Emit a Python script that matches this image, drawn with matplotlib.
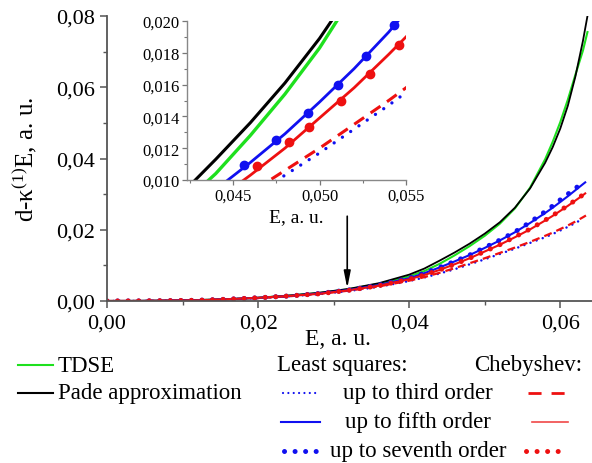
import matplotlib
matplotlib.use('Agg')
import matplotlib.pyplot as plt
from matplotlib.lines import Line2D
from matplotlib.ticker import MultipleLocator, FuncFormatter

plt.rcParams['font.family'] = ['Liberation Serif', 'DejaVu Serif']
plt.rcParams['mathtext.fontset'] = 'custom'
plt.rcParams['mathtext.rm'] = 'Liberation Serif'
plt.rcParams['mathtext.it'] = 'Liberation Serif:italic'

# field strength grid, a. u.
e_grid = [0, 0.004, 0.008, 0.012, 0.016, 0.020, 0.024, 0.028, 0.032, 0.036,
          0.040, 0.042, 0.044, 0.046, 0.048, 0.050, 0.052, 0.054, 0.056, 0.058,
          0.059, 0.060, 0.061, 0.062, 0.063]

e_exact = e_grid + [0.0636]
tdse = [0, 0.00002, 0.0001, 0.00025, 0.0005, 0.0009, 0.0015, 0.0022, 0.0033, 0.0048,
        0.0069, 0.0084, 0.0104, 0.0128, 0.0154, 0.0183, 0.0217, 0.0260, 0.0318, 0.0398,
        0.0447, 0.0502, 0.0565, 0.0635, 0.0703, 0.0755]
pade = [0, 0.00002, 0.0001, 0.00025, 0.0005, 0.0009, 0.0015, 0.0023, 0.0034, 0.0050,
        0.0074, 0.0091, 0.0113, 0.0136, 0.0161, 0.0189, 0.0221, 0.0262, 0.0316, 0.0388,
        0.0432, 0.0484, 0.0548, 0.0630, 0.0730, 0.0800]

e_ls3 = e_grid
ls3 = [0, 0.00002, 0.0001, 0.0002, 0.0005, 0.0008, 0.0013, 0.0019, 0.0028, 0.0040,
       0.0056, 0.0066, 0.0077, 0.0089, 0.0103, 0.0117, 0.0132, 0.0147, 0.0163, 0.0179,
       0.0188, 0.0198, 0.0208, 0.0219, 0.0231]
e_ls5 = e_grid + [0.0633]
ls5 = [0, 0.00002, 0.0001, 0.0002, 0.0005, 0.0009, 0.0014, 0.0021, 0.0031, 0.0045,
       0.0064, 0.0078, 0.0094, 0.0111, 0.0129, 0.0149, 0.0170, 0.0193, 0.0219, 0.0247,
       0.0262, 0.0278, 0.0294, 0.0311, 0.0328, 0.0333]
e_ls7 = e_grid
ls7 = [0, 0.00002, 0.0001, 0.0002, 0.0005, 0.0009, 0.0014, 0.0021, 0.0031, 0.0045,
       0.0064, 0.0078, 0.0094, 0.0111, 0.0129, 0.0150, 0.0171, 0.0194, 0.0221, 0.0251,
       0.0267, 0.0284, 0.0300, 0.0316, 0.0333]

e_ch3 = e_grid + [0.0634]
ch3 = [0, 0.00002, 0.0001, 0.0002, 0.0005, 0.0008, 0.0013, 0.0020, 0.0029, 0.0041,
       0.0057, 0.0067, 0.0079, 0.0092, 0.0106, 0.0120, 0.0135, 0.0150, 0.0166, 0.0183,
       0.0192, 0.0202, 0.0212, 0.0223, 0.0235, 0.0240]
e_ch5 = e_grid + [0.0633]
ch5 = [0, 0.00002, 0.0001, 0.0002, 0.0005, 0.0009, 0.0014, 0.0020, 0.0030, 0.0043,
       0.0061, 0.0073, 0.0087, 0.0103, 0.0120, 0.0139, 0.0158, 0.0179, 0.0201, 0.0226,
       0.0239, 0.0253, 0.0267, 0.0282, 0.0297, 0.0302]
e_ch7 = e_grid
ch7 = [0, 0.00002, 0.0001, 0.0002, 0.0005, 0.0009, 0.0014, 0.0020, 0.0030, 0.0043,
       0.0061, 0.0073, 0.0087, 0.0103, 0.0120, 0.0139, 0.0158, 0.0180, 0.0202, 0.0227,
       0.0240, 0.0254, 0.0268, 0.0283, 0.0298]

# symbols shown in the inset
ins_e_ls7 = [0.04563, 0.04748, 0.04933, 0.05106, 0.05269, 0.05430]
ins_ls7 = [0.01094, 0.01252, 0.01421, 0.01597, 0.01780, 0.01975]
ins_e_ch7 = [0.04639, 0.04824, 0.04940, 0.05124, 0.05290, 0.05460]
ins_ch7 = [0.01088, 0.01239, 0.01333, 0.01497, 0.01667, 0.01849]

GREEN = '#1ee01e'
BLUE = '#1010f0'
RED = '#ee1010'
SPINE = '#555555'

fig = plt.figure(figsize=(5.92, 4.64), dpi=100)
ax = fig.add_axes([107 / 592, 162 / 464, 485 / 592, 285 / 464])

ax.plot(e_exact, tdse, color=GREEN, lw=1.5)
ax.plot(e_exact, pade, color='black', lw=1.3)
ax.plot(e_ls3, ls3, color=BLUE, lw=1.8, linestyle=(0, (0.01, 2.6)), dash_capstyle='round')
ax.plot(e_ch3, ch3, color=RED, lw=1.6, linestyle=(0, (3.6, 2.3)))
ax.plot(e_ls5, ls5, color=BLUE, lw=1.5)
ax.plot(e_ch5, ch5, color=RED, lw=1.5)
ax.plot(e_ls7, ls7, color=BLUE, lw=3.6, linestyle=(0, (0.01, 2.1)), dash_capstyle='round')
ax.plot(e_ch7, ch7, color=RED, lw=3.6, linestyle=(0, (0.01, 2.1)), dash_capstyle='round')

ax.annotate('', xy=(0.0318, 0.0036), xytext=(0.0318, 0.0238),
            arrowprops=dict(arrowstyle='-|>,head_width=0.2,head_length=1.0',
                            color='black', lw=1.2, shrinkA=0, shrinkB=0))

ax.set_xlim(0, 0.0642)
ax.set_ylim(0, 0.08)
ax.xaxis.set_major_locator(MultipleLocator(0.02))
ax.xaxis.set_minor_locator(MultipleLocator(0.01))
ax.yaxis.set_major_locator(MultipleLocator(0.02))
ax.yaxis.set_minor_locator(MultipleLocator(0.01))
comma2 = FuncFormatter(lambda v, p: f'{v:.2f}'.replace('.', ','))
ax.xaxis.set_major_formatter(comma2)
ax.yaxis.set_major_formatter(comma2)
ax.tick_params(which='major', direction='out', length=5, width=1.1, color=SPINE,
               labelsize=16, pad=4)
ax.tick_params(which='minor', direction='out', length=3, width=1.0, color=SPINE)
for s in ['top', 'right']:
    ax.spines[s].set_visible(False)
for s in ['left', 'bottom']:
    ax.spines[s].set_color(SPINE)
    ax.spines[s].set_linewidth(1.3)

ax.set_xlabel('E, a. u.', fontsize=17)
ax.xaxis.set_label_coords((338 - 107) / 485, -0.095)
ax.set_ylabel('d-κ$^{(1)}$E, a. u.', fontsize=18)
ax.yaxis.set_label_coords(-0.14, 0.5)

# inset
ins = fig.add_axes([187 / 592, 283 / 464, 219 / 592, 159 / 464])
ins.plot(e_exact, pade, color='black', lw=2.2)
ins.plot(e_exact, tdse, color=GREEN, lw=2.4)
ins.plot(e_ls5, ls5, color=BLUE, lw=2.0)
ins.plot(e_ch5, ch5, color=RED, lw=2.0)
ins.plot(e_ls3, ls3, color=BLUE, lw=2.4, linestyle=(0, (0.01, 3.0)), dash_capstyle='round')
ins.plot(e_ch3, ch3, color=RED, lw=2.2, linestyle=(0, (3.9, 2.6)))
ins.plot(ins_e_ls7, ins_ls7, 'o', color=BLUE, ms=6)
ins.plot(ins_e_ch7, ins_ch7, 'o', color=RED, ms=6)

ins.set_xlim(0.04234, 0.055)
ins.set_ylim(0.010, 0.020)
ins.xaxis.set_major_locator(MultipleLocator(0.005))
ins.xaxis.set_minor_locator(MultipleLocator(0.0025))
ins.yaxis.set_major_locator(MultipleLocator(0.002))
ins.yaxis.set_minor_locator(MultipleLocator(0.001))
comma3 = FuncFormatter(lambda v, p: f'{v:.3f}'.replace('.', ','))
ins.xaxis.set_major_formatter(comma3)
ins.yaxis.set_major_formatter(comma3)
ins.tick_params(which='major', direction='out', length=3.5, width=0.9, color='#777777',
                labelsize=12, pad=2)
ins.tick_params(which='minor', direction='out', length=2, width=0.8, color='#777777')
for s in ['top', 'right']:
    ins.spines[s].set_visible(False)
for s in ['left', 'bottom']:
    ins.spines[s].set_color('#888888')
    ins.spines[s].set_linewidth(1.0)
ins.set_xlabel('E, a. u.', fontsize=14, labelpad=3)

# legend drawn below the axes
def px(x, y):
    return x / 592, 1 - y / 464

def handle(x0, x1, y, **kw):
    (a, b), (c, _) = px(x0, y), px(x1, y)
    fig.add_artist(Line2D([a, c], [b, b], transform=fig.transFigure, **kw))

def label(x, y, s, ha='left'):
    fx, fy = px(x, y)
    fig.text(fx, fy, s, fontsize=16.5, ha=ha, va='center')

handle(18, 53, 366, color=GREEN, lw=1.5)
label(58, 366, 'TDSE')
handle(18, 53, 394, color='black', lw=1.5)
label(58, 394, 'Pade approximation')
label(277, 366, 'Least squares:')
label(474, 366, 'Chebyshev:')

handle(283, 316, 394, color=BLUE, lw=1.6, linestyle=(0, (0.01, 2.4)), dash_capstyle='round')
label(418, 394, 'up to third order', ha='center')
handle(528, 565, 394, color=RED, lw=2.0, linestyle=(0, (4.7, 3.6)))

handle(281, 320, 423, color=BLUE, lw=1.5)
label(418, 423, 'up to fifth order', ha='center')
handle(532, 568, 423, color='#f04848', lw=1.2)

handle(284, 320, 452, color=BLUE, lw=3.6, linestyle=(0, (0.01, 2.1)), dash_capstyle='round')
label(418, 452, 'up to seventh order', ha='center')
handle(526, 562, 452, color=RED, lw=3.6, linestyle=(0, (0.01, 2.1)), dash_capstyle='round')

fig.savefig('out.png', dpi=100)
